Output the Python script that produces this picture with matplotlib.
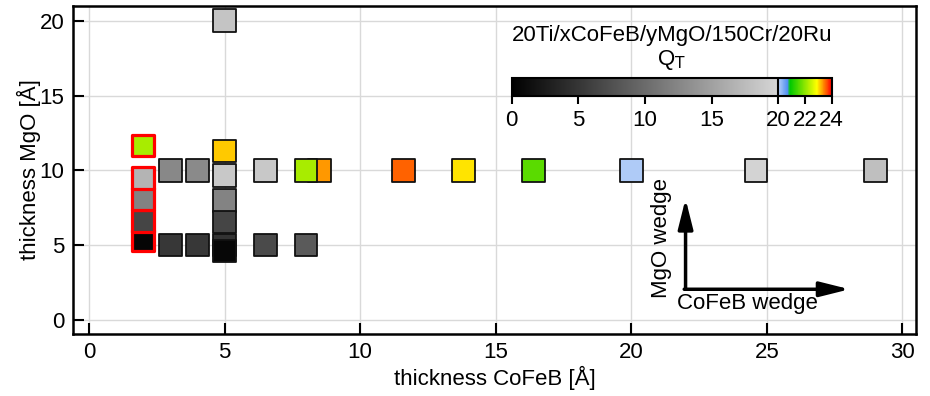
import numpy as np
import matplotlib
matplotlib.use("Agg")
import matplotlib.pyplot as plt
from matplotlib.colors import LinearSegmentedColormap, Normalize
from matplotlib.cm import ScalarMappable

plt.rcParams['font.family'] = ['Liberation Sans', 'DejaVu Sans']
plt.rcParams['font.size'] = 16

# samples with a black outline (x = CoFeB thickness, y = MgO thickness, q = Q_T)
cofeb = [5, 3, 4, 6.5, 8.5, 8, 11.6, 13.8, 16.4, 20, 24.6, 29,
         3, 4, 6.5, 8, 5, 5, 5, 5, 5, 5]
mgo = [20, 10, 10, 10, 10, 10, 10, 10, 10, 10, 10, 10,
       5, 5, 5, 5, 11.3, 9.65, 8.0, 6.55, 5.0, 4.6]
qt = [18.3, 12.7, 12.9, 18.7, 23.34, 22.2, 23.56, 23.0, 21.6, 20.05, 19.7, 17.8,
      5.2, 5.2, 6.9, 8.4, 23.12, 18.7, 12.2, 6.4, 4.8, 0.7]

# samples marked in red
red_cofeb = [2, 2, 2, 2, 2]
red_mgo = [11.65, 5.3, 6.6, 8.1, 9.5]
red_qt = [22.2, 0.5, 6.4, 12.1, 16.8]

cbar_ticks = [0, 5, 10, 15, 20, 22, 24]

# grey up to 20, then a rainbow up to 24
qmax = 24.0
cmap = LinearSegmentedColormap.from_list("qt", [
    (0.0, "#000000"),
    (20.0 / qmax, "#d6d6d6"),
    (20.001 / qmax, "#b8d0f8"),
    (20.7 / qmax, "#5090f0"),
    (20.9 / qmax, "#00c800"),
    (22.9 / qmax, "#ffff00"),
    (1.0, "#ff0000"),
], N=1024)
norm = Normalize(0, qmax)

fig = plt.figure(figsize=(9.3, 3.96), dpi=100)
ax = fig.add_axes([0.0782, 0.1566, 0.9068, 0.8288])

ax.scatter(cofeb, mgo, c=qt, cmap=cmap, norm=norm, marker='s', s=266,
           edgecolors='#111111', linewidths=1.3, zorder=3)
ax.scatter(red_cofeb, red_mgo, c=red_qt, cmap=cmap, norm=norm, marker='s', s=240,
           edgecolors='#ff0000', linewidths=2.3, zorder=3)

ax.set_xlim(-0.6, 30.5)
ax.set_ylim(-0.94, 21.0)
ax.set_xticks([0, 5, 10, 15, 20, 25, 30])
ax.set_yticks([0, 5, 10, 15, 20])
ax.grid(True, color='#d9d9d9', lw=1)
ax.set_axisbelow(True)
ax.tick_params(direction='in', length=8, width=1.5, pad=6)
for sp in ax.spines.values():
    sp.set_linewidth(1.8)
ax.set_xlabel("thickness CoFeB [Å]", labelpad=2)
ax.set_ylabel("thickness MgO [Å]", labelpad=-1)

# wedge direction arrows
arr = dict(arrowstyle='-|>,head_length=1.0,head_width=0.25', mutation_scale=18,
           lw=2.5, color='black', shrinkA=0, shrinkB=0)
ax.annotate("", xy=(22.0, 8.1), xytext=(22.0, 2.05), arrowprops=arr)
ax.annotate("", xy=(28.05, 2.05), xytext=(21.95, 2.05), arrowprops=arr)
ax.text(21.1, 5.5, "MgO wedge", rotation=90, ha='center', va='center')
ax.text(24.3, 1.1, "CoFeB wedge", ha='center', va='center')

# colour bar
cax = fig.add_axes([0.5502, 0.7583, 0.344, 0.044])
cb = fig.colorbar(ScalarMappable(norm=norm, cmap=cmap), cax=cax,
                  orientation='horizontal', ticks=cbar_ticks)
cb.outline.set_linewidth(1.5)
cax.axvline(20, color='black', lw=1.5)
cax.tick_params(direction='out', length=6, width=1.5, pad=4)
fig.text(0.7222, 1 - 35 / 396, "20Ti/xCoFeB/yMgO/150Cr/20Ru", ha='center', va='center')
fig.text(0.7222, 1 - 60 / 396, "Q$_\\mathrm{T}$", ha='center', va='center')

fig.savefig("out.png", dpi=100)
